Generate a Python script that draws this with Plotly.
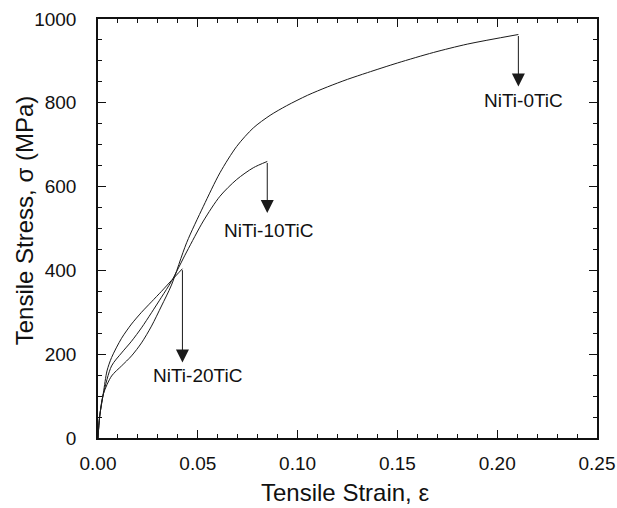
import plotly.graph_objects as go

# ---- data ----
strain_0tic = [0, 0.0008, 0.0027, 0.0068, 0.0118, 0.0168, 0.0218, 0.0268, 0.0318, 0.0368,
               0.0444, 0.0528, 0.0611, 0.0695, 0.0778, 0.0862, 0.0945, 0.105, 0.115,
               0.125, 0.135, 0.150, 0.168, 0.185, 0.2106]
stress_0tic = [0, 50, 105, 148, 172, 196, 227, 267, 315, 365,
               466, 553, 633, 696, 740, 770, 793, 818, 838,
               856, 872, 895, 920, 940, 963]

strain_10tic = [0, 0.0008, 0.0027, 0.0068, 0.0118, 0.0168, 0.0218, 0.0268, 0.0318, 0.0368,
                0.0444, 0.0528, 0.0611, 0.0695, 0.0778, 0.0848]
stress_10tic = [0, 50, 105, 172, 203, 231, 263, 299, 336, 374,
                444, 518, 577, 617, 645, 660]

strain_20tic = [0, 0.0008, 0.0027, 0.0045, 0.0068, 0.0118, 0.0168, 0.0218, 0.0268, 0.0318,
                0.0368, 0.0423]
stress_20tic = [0, 50, 108, 160, 192, 238, 272, 300, 325, 350,
                376, 404]

labels = ["NiTi-0TiC", "NiTi-10TiC", "NiTi-20TiC"]
arrow_tip_stress = [839, 537, 180]
label_pos_x = [0.2131, 0.0852, 0.0496]
label_pos_y = [805, 495, 148]

x_ticks = [0.00, 0.05, 0.10, 0.15, 0.20, 0.25]
y_ticks = [0, 200, 400, 600, 800, 1000]
x_title = "Tensile Strain, ε"
y_title = "Tensile Stress, σ (MPa)"

FONT = "Liberation Sans, Arial, sans-serif"
LINE_COLOR = "#1a1a1a"

fig = go.Figure()
series = [(strain_0tic, stress_0tic), (strain_10tic, stress_10tic), (strain_20tic, stress_20tic)]
for (xs, ys), name in zip(series, labels):
    fig.add_trace(go.Scatter(x=xs, y=ys, mode="lines", name=name,
                             line=dict(color=LINE_COLOR, width=1, shape="spline", smoothing=0.8),
                             showlegend=False, hoverinfo="skip"))

annotations = []
for (xs, ys), tip, lx, ly, lab in zip(series, arrow_tip_stress, label_pos_x, label_pos_y, labels):
    annotations.append(dict(x=xs[-1], y=tip, ax=xs[-1], ay=ys[-1], xref="x", yref="y",
                            axref="x", ayref="y", text="", showarrow=True,
                            arrowhead=2, arrowsize=2.6, arrowwidth=1, arrowcolor=LINE_COLOR))
    annotations.append(dict(x=lx, y=ly, xref="x", yref="y", text=lab, showarrow=False,
                            font=dict(family=FONT, size=19, color="#111111"),
                            xanchor="center", yanchor="middle"))

# axis titles placed precisely in paper coordinates
annotations.append(dict(x=0.494, y=-0.131, xref="paper", yref="paper", text=x_title,
                        showarrow=False, xanchor="center", yanchor="middle",
                        font=dict(family=FONT, size=24, color="#111111")))
annotations.append(dict(x=-0.148, y=0.52, xref="paper", yref="paper", text=y_title,
                        showarrow=False, xanchor="center", yanchor="middle", textangle=-90,
                        font=dict(family=FONT, size=24, color="#111111")))

fig.update_layout(
    width=617, height=508,
    margin=dict(l=98, r=20, t=19, b=70),
    paper_bgcolor="white", plot_bgcolor="white",
    font=dict(family=FONT, color="#111111"),
    annotations=annotations,
)

fig.update_xaxes(
    range=[0, 0.25], tickvals=x_ticks, ticktext=[f"{v:.2f}" for v in x_ticks],
    ticks="inside", ticklen=8, tickwidth=1, tickcolor="#111111",
    minor=dict(dtick=0.01, tick0=0, ticks="inside", ticklen=4, tickwidth=1, tickcolor="#111111"),
    showline=True, linecolor="#111111", linewidth=1.5, mirror="ticks",
    showgrid=False, zeroline=False, automargin=False, ticklabeloverflow="allow",
    tickfont=dict(family=FONT, size=19), ticklabelstandoff=7,
)
fig.update_yaxes(
    range=[0, 1000], tickvals=y_ticks, ticktext=[str(v) for v in y_ticks],
    ticks="inside", ticklen=8, tickwidth=1, tickcolor="#111111",
    minor=dict(dtick=50, tick0=0, ticks="inside", ticklen=4, tickwidth=1, tickcolor="#111111"),
    showline=True, linecolor="#111111", linewidth=1.5, mirror="ticks",
    showgrid=False, zeroline=False, automargin=False, ticklabeloverflow="allow",
    tickfont=dict(family=FONT, size=19), ticklabelstandoff=16,
)

# remove the default page margin so the figure fills the 617x508 window exactly
fig.write_html("out.html", config={"displayModeBar": False},
               post_script="document.body.style.margin='0';document.body.style.overflow='hidden';")
